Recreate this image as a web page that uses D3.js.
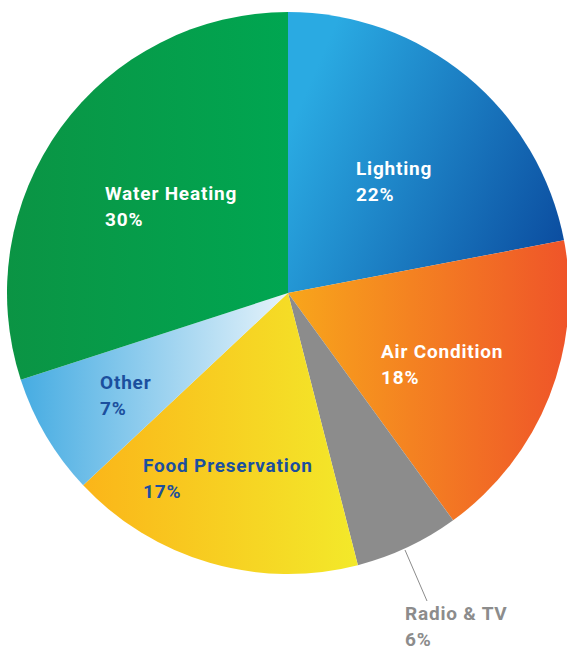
<!DOCTYPE html>
<html>
<head>
<meta charset="utf-8">
<script src="https://cdn.jsdelivr.net/npm/d3@7/dist/d3.min.js"></script>
<style>
html,body{margin:0;padding:0;background:#fff;}
svg{display:block;}
text{font-family:Roboto,"Open Sans",sans-serif;font-weight:700;}
</style>
</head>
<body>
<svg id="chart" width="567" height="651"></svg>
<script>
const categories = ["Lighting", "Air Condition", "Radio & TV", "Food Preservation", "Other", "Water Heating"];
const values = [22, 18, 6, 17, 7, 30];
const gradStart = ["#2aaae2", "#f8a61b", "#8c8c8c", "#fbb519", "#46ace2", "#0b9444"];
const gradEnd   = ["#0b4c9f", "#ef5429", "#8c8c8c", "#f3e92a", "#e6f3fb", "#00a651"];
const labelColors = ["#ffffff", "#ffffff", "#8c8c8c", "#1b4f9e", "#1b4f9e", "#ffffff"];
const labelPos = [[356,175],[381,358],[405,620],[143,472],[100,389],[105,200]];

const W = 567, H = 651;
const cx = 288, cy = 293, R = 281;
const svg = d3.select("#chart");
const defs = svg.append("defs");

const pie = d3.pie().sort(null).value(d => d.v);
const arc = d3.arc().innerRadius(0).outerRadius(R);
const data = categories.map((c,i)=>({c, v: values[i], i}));
const arcs = pie(data);

// gradients in the slice's local space across its horizontal extent
arcs.forEach((a,i)=>{
  const pts = [[0,0]];
  for(let t=0;t<=40;t++){
    const ang = a.startAngle + (a.endAngle-a.startAngle)*t/40;
    pts.push([R*Math.sin(ang), -R*Math.cos(ang)]);
  }
  const xs = pts.map(p=>p[0]);
  const x1 = d3.min(xs), x2 = d3.max(xs);
  const g = defs.append("linearGradient")
    .attr("id","g"+i).attr("gradientUnits","userSpaceOnUse")
    .attr("x1", x1).attr("x2", x2).attr("y1", 0).attr("y2", 0);
  if(i===0){ g.attr("y1", -160).attr("y2", -40); }
  g.append("stop").attr("offset","0").attr("stop-color", gradStart[i]);
  g.append("stop").attr("offset","1").attr("stop-color", gradEnd[i]);
});

const gpie = svg.append("g").attr("transform", `translate(${cx},${cy})`);
gpie.selectAll("path").data(arcs).enter().append("path")
  .attr("d", arc)
  .attr("fill", (d,i)=>`url(#g${i})`);

// leader line for Radio & TV
svg.append("line").attr("x1",405).attr("y1",550).attr("x2",427).attr("y2",601)
  .attr("stroke","#8c8c8c").attr("stroke-width",1);

// labels
data.forEach((d,i)=>{
  const [x,y] = labelPos[i];
  const t = svg.append("text").attr("x",x).attr("y",y)
    .attr("fill",labelColors[i]).attr("font-size",19)
    .attr("letter-spacing",0.8);
  t.append("tspan").attr("x",x).text(d.c);
  t.append("tspan").attr("x",x).attr("dy",26).text(d.v+"%");
});
</script>
</body>
</html>
